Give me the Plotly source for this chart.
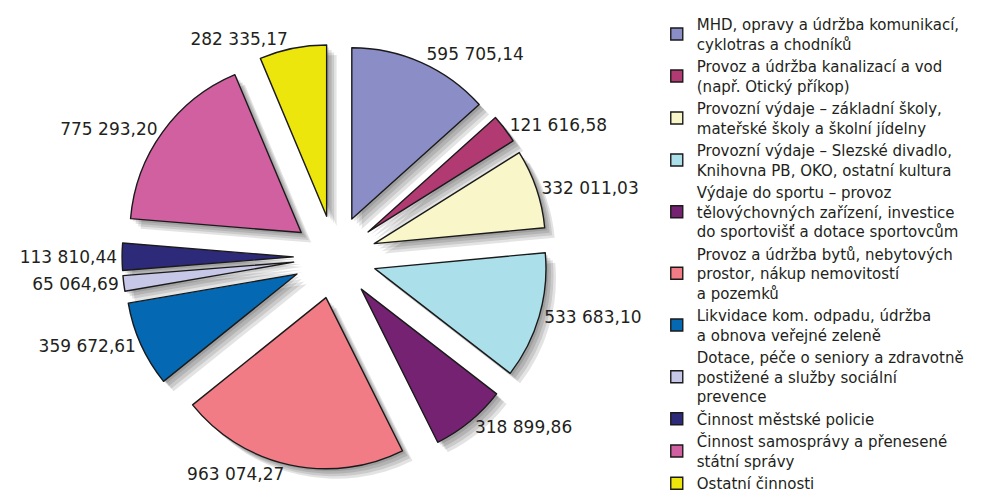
import plotly.graph_objects as go

categories = [
    "MHD, opravy a údržba komunikací,<br>cyklotras a chodníků",
    "Provoz a údržba kanalizací a vod<br>(např. Otický příkop)",
    "Provozní výdaje – základní školy,<br>mateřské školy a školní jídelny",
    "Provozní výdaje – Slezské divadlo,<br>Knihovna PB, OKO, ostatní kultura",
    "Výdaje do sportu – provoz<br>tělovýchovných zařízení, investice<br>do sportovišť a dotace sportovcům",
    "Provoz a údržba bytů, nebytových<br>prostor, nákup nemovitostí<br>a pozemků",
    "Likvidace kom. odpadu, údržba<br>a obnova veřejné zeleně",
    "Dotace, péče o seniory a zdravotně<br>postižené a služby sociální<br>prevence",
    "Činnost městské policie",
    "Činnost samosprávy a přenesené<br>státní správy",
    "Ostatní činnosti",
]
values = [595705.14, 121616.58, 332011.03, 533683.10, 318899.86, 963074.27,
          359672.61, 65064.69, 113810.44, 775293.20, 282335.17]
colors = ["#8a8dc6", "#b13a72", "#f9f7c9", "#abdfea", "#752273", "#f27c86",
          "#0468b2", "#c7c8e7", "#2d2a79", "#d160a1", "#ede60c"]


def fmt(v):
    return f"{v:,.2f}".replace(",", " ").replace(".", ",")


texts = [fmt(v) for v in values]

W, H = 992, 493
dom_x = [0.115, 0.544]
dom_y = [0.063, 0.927]
PULL = 0.243

fig = go.Figure()

# soft drop shadow layers
for k, off in enumerate([10.0, 7.5, 5.0, 2.5]):
    dx, dy = off / W, off / H
    fig.add_trace(go.Pie(
        labels=[f"s{k}_{i}" for i in range(len(values))],
        values=values,
        sort=False, direction="clockwise", rotation=0,
        pull=PULL,
        marker=dict(colors=["rgba(0,0,0,0.11)"] * len(values), line=dict(width=0)),
        textinfo="none", hoverinfo="skip", showlegend=False,
        domain=dict(x=[dom_x[0] + dx, dom_x[1] + dx], y=[dom_y[0] - dy, dom_y[1] - dy]),
    ))

fig.add_trace(go.Pie(
    labels=categories,
    values=values,
    text=texts,
    textinfo="text",
    textposition="outside",
    outsidetextfont=dict(family="DejaVu Sans", size=17, color="#231f20"),
    sort=False, direction="clockwise", rotation=0,
    pull=PULL,
    automargin=False,
    marker=dict(colors=colors, line=dict(color="#1a1a1a", width=1.4)),
    domain=dict(x=dom_x, y=dom_y),
    hovertemplate="%{label}<br>%{text}<extra></extra>",
))

fig.update_layout(
    width=W, height=H,
    margin=dict(l=0, r=0, t=0, b=0, autoexpand=False),
    paper_bgcolor="white",
    plot_bgcolor="white",
    font=dict(family="DejaVu Sans", color="#231f20"),
    legend=dict(
        x=0.654, y=1.0, xanchor="left", yanchor="top",
        font=dict(family="DejaVu Sans", size=15, color="#231f20"),
        tracegroupgap=0, bgcolor="rgba(0,0,0,0)",
    ),
)

fig.write_html("out.html")
